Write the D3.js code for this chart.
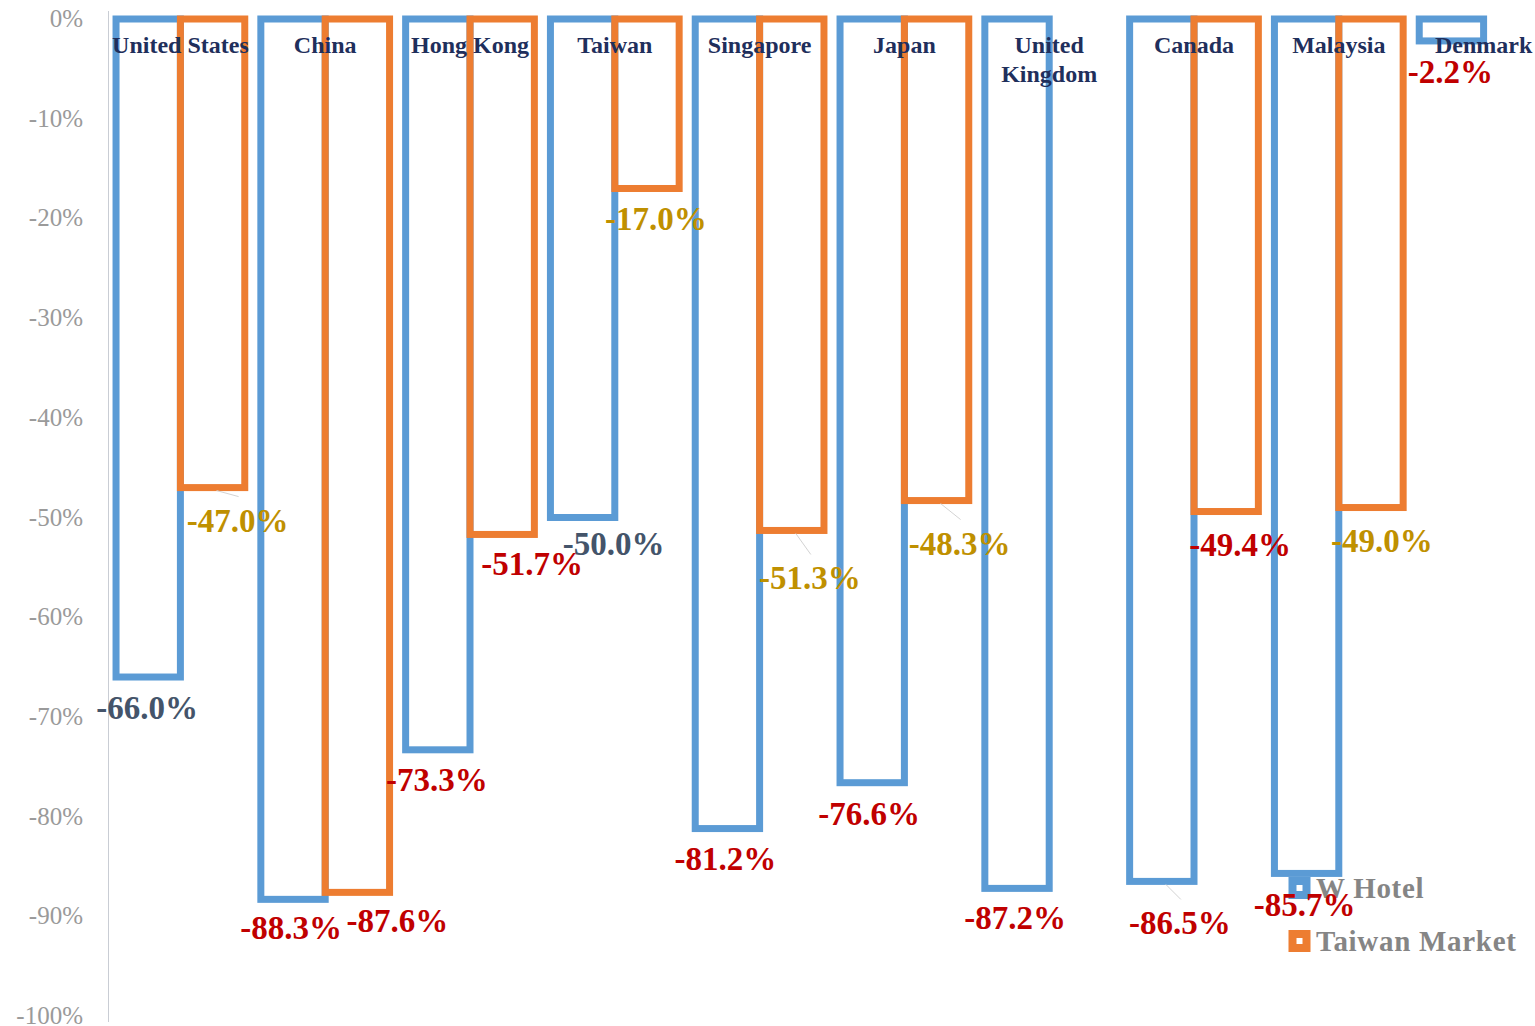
<!DOCTYPE html>
<html>
<head>
<meta charset="utf-8">
<script src="https://cdn.jsdelivr.net/npm/d3@7"></script>
<style>
  html, body { margin: 0; padding: 0; background: #ffffff; }
  svg { display: block; }
</style>
</head>
<body>
<svg id="chart" width="1535" height="1026"></svg>
<script>
// ---------------- data ----------------
const categories = ["United States", "China", "Hong Kong", "Taiwan", "Singapore",
                    "Japan", "United Kingdom", "Canada", "Malaysia", "Denmark"];
const seriesNames = ["W Hotel", "Taiwan Market"];
const wHotel       = [-66.0, -88.3, -73.3, -50.0, -81.2, -76.6, -87.2, -86.5, -85.7, -2.2];
const taiwanMarket = [-47.0, -87.6, -51.7, -17.0, -51.3, -48.3, null, -49.4, -49.0, null];
const yTickValues  = [0, -10, -20, -30, -40, -50, -60, -70, -80, -90, -100];
// label tone per data point (as shown in the picture)
const hotelTone  = ["slate", "red", "red", "slate", "red", "red", "red", "red", "red", "red"];
const marketTone = ["gold", "red", "red", "gold", "gold", "gold", null, "red", "gold", null];

// ---------------- layout / style ----------------
const W = 1535, H = 1026;
const plotLeft = 108, plotRight = 1556, plotTop = 19, plotBottom = 1016;
const barStroke = 7;
const colors = { hotel: "#5B9BD5", market: "#ED7D31" };
const toneColor = { red: "#C00000", gold: "#BF9000", slate: "#44546A" };
// manual nudges for the data labels [dx, dy, leader]
const hotelNudge  = [[-1,0,0],[-2,-2,0],[-1,-1,0],[31,-5,0],[-2,-1,0],[-3,0,0],[-2,-1,0],[18,11,1],[-2,1,0],[-1,0,0]];
const marketNudge = [[25,2,1],[40,-2,0],[30,-1,0],[9,0,0],[18,17,1],[23,12,1],null,[14,2,0],[11,2,0],null];

const svg = d3.select("#chart");

const x0 = d3.scaleBand()
  .domain(categories)
  .range([plotLeft, plotRight])
  .paddingInner(0.111)
  .paddingOuter(0.0555);
const x1 = d3.scaleBand()
  .domain(["hotel", "market"])
  .range([0, x0.bandwidth()])
  .padding(0);
const y = d3.scaleLinear().domain([0, -100]).range([plotTop, plotBottom]);

const pct = v => (v < 0 ? "-" : "") + Math.abs(v).toFixed(1) + "%";

// ---- y axis ----
const yAxis = d3.axisLeft(y)
  .tickValues(yTickValues)
  .tickSize(0)
  .tickPadding(25)
  .tickFormat(d => (d < 0 ? "-" : "") + Math.abs(d) + "%");
const gy = svg.append("g").attr("transform", `translate(${plotLeft},0)`).call(yAxis);
gy.select(".domain").attr("stroke", "#c9cdd4").attr("stroke-width", 1)
  .attr("d", `M0.5,${plotTop - 8}V${plotBottom + 6}`);
gy.selectAll(".tick text")
  .attr("font-family", "'Liberation Serif', 'Times New Roman', serif")
  .attr("font-size", 25)
  .attr("fill", "#9a9a9a")
  .attr("dy", "0.3em");

// ---- bars ----
const rows = categories.map((c, i) => ({
  cat: c, i,
  hotel: wHotel[i], market: taiwanMarket[i]
}));

const barsG = svg.append("g");
["hotel", "market"].forEach(key => {
  barsG.selectAll("rect." + key)
    .data(rows.filter(r => r[key] !== null))
    .join("rect")
    .attr("class", key)
    .attr("x", r => x0(r.cat) + x1(key))
    .attr("y", y(0))
    .attr("width", x1.bandwidth())
    .attr("height", r => y(r[key]) - y(0))
    .attr("fill", "none")
    .attr("stroke", colors[key])
    .attr("stroke-width", barStroke);
});

// ---- category labels (top, inside plot) ----
const catG = svg.append("g")
  .attr("font-family", "'Liberation Serif', 'Times New Roman', serif")
  .attr("font-size", 24)
  .attr("font-weight", "bold")
  .attr("fill", "#1F2F5C")
  .attr("text-anchor", "middle");
rows.forEach(r => {
  const cx = x0(r.cat) + x0.bandwidth() / 2;
  const lines = r.cat.length > 13 ? r.cat.split(" ") : [r.cat];
  const t = catG.append("text").attr("x", cx).attr("y", 53);
  lines.forEach((ln, k) => {
    t.append("tspan").attr("x", cx).attr("dy", k === 0 ? 0 : 29).text(ln);
  });
});

// ---- legend ----
const legend = svg.append("g");
const legendItems = [
  { name: seriesNames[0], color: colors.hotel, cy: 888 },
  { name: seriesNames[1], color: colors.market, cy: 941 }
];
legendItems.forEach(it => {
  legend.append("rect")
    .attr("x", 1299.5 - 7).attr("y", it.cy - 7)
    .attr("width", 14).attr("height", 14)
    .attr("fill", "#ffffff")
    .attr("stroke", it.color).attr("stroke-width", 8);
  legend.append("text")
    .attr("x", 1316).attr("y", it.cy + 10)
    .attr("font-family", "'Liberation Serif', 'Times New Roman', serif")
    .attr("font-size", 29)
    .attr("font-weight", "bold")
    .attr("letter-spacing", 0.7)
    .attr("fill", "#858585")
    .text(it.name);
});

// ---- data labels ----
const lblG = svg.append("g");
function addLabels(key, values, tones, nudges) {
  rows.forEach(r => {
    const v = values[r.i];
    if (v === null) return;
    const bx = x0(r.cat) + x1(key) + x1.bandwidth() / 2;
    const by = y(v);
    const n = nudges[r.i];
    const cx = bx + n[0];
    const cy = by + 31 + n[1];
    if (n[2]) {
      lblG.append("line")
        .attr("x1", bx + 4).attr("y1", by + 3)
        .attr("x2", cx + 1).attr("y2", cy - 24)
        .attr("stroke", "#d3d3d3").attr("stroke-width", 1);
    }
    lblG.append("text")
      .attr("x", cx).attr("y", cy + 11)
      .attr("text-anchor", "middle")
      .attr("font-family", "'Liberation Serif', 'Times New Roman', serif")
      .attr("font-size", 33)
      .attr("font-weight", "bold")
      .attr("fill", toneColor[tones[r.i]])
      .text(pct(v));
  });
}
addLabels("hotel", wHotel, hotelTone, hotelNudge);
addLabels("market", taiwanMarket, marketTone, marketNudge);
</script>
</body>
</html>
